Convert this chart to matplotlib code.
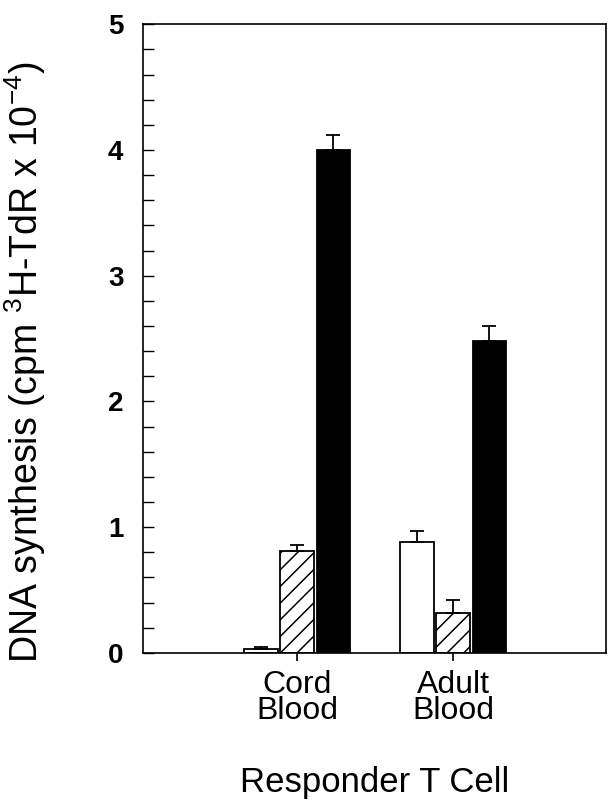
import numpy as np
import matplotlib
matplotlib.use("Agg")
import matplotlib.pyplot as plt
from matplotlib.ticker import MultipleLocator

plt.rcParams["font.family"] = ["Liberation Sans", "DejaVu Sans"]
plt.rcParams["mathtext.fontset"] = "custom"
plt.rcParams["mathtext.rm"] = "Liberation Sans"
plt.rcParams["hatch.linewidth"] = 1.1

groups = ["Cord\nBlood", "Adult\nBlood"]
open_vals = [0.03, 0.88]
open_err = [0.02, 0.09]
hatch_vals = [0.81, 0.32]
hatch_err = [0.05, 0.10]
black_vals = [4.00, 2.48]
black_err = [0.12, 0.12]

centres = np.array([4.28, 8.61])
step = 1.0
width = 0.92

fig = plt.figure(figsize=(6.08, 8.10), dpi=100)
ax = fig.add_axes([0.235, 0.194, 0.762, 0.776])

# upper error bars only, with caps
ekw = dict(elinewidth=1.3, capthick=1.3, capsize=5, ecolor="black")
lo = [0, 0]
ax.bar(centres - step, open_vals, width, color="white", edgecolor="black",
       linewidth=1.3, yerr=[lo, open_err], error_kw=ekw)
ax.bar(centres, hatch_vals, width, color="white", edgecolor="black",
       linewidth=1.3, hatch="//", yerr=[lo, hatch_err], error_kw=ekw)
ax.bar(centres + step, black_vals, width, color="black", edgecolor="black",
       linewidth=1.3, yerr=[lo, black_err], error_kw=ekw)

ax.set_xlim(0, 12.86)
ax.set_ylim(0, 5)
ax.set_xticks(centres)
ax.set_xticklabels(groups, fontsize=23, linespacing=0.85)
ax.tick_params(axis="x", direction="out", length=6, width=1.2, pad=6)

ax.yaxis.set_major_locator(MultipleLocator(1))
ax.yaxis.set_minor_locator(MultipleLocator(0.2))
ax.tick_params(axis="y", which="both", direction="in", length=8, width=1.0,
               labelsize=20, pad=14)
for lab in ax.get_yticklabels():
    lab.set_fontweight("bold")

for sp in ax.spines.values():
    sp.set_linewidth(1.2)

ax.set_ylabel("DNA synthesis (cpm $^{3}$H-TdR x 10$^{-4}$)", fontsize=27)
ax.yaxis.set_label_coords(-0.205, 0.462)
ax.set_xlabel("Responder T Cell", fontsize=25)
ax.xaxis.set_label_coords(0.5, -0.18)

fig.savefig("out.png", dpi=100)
